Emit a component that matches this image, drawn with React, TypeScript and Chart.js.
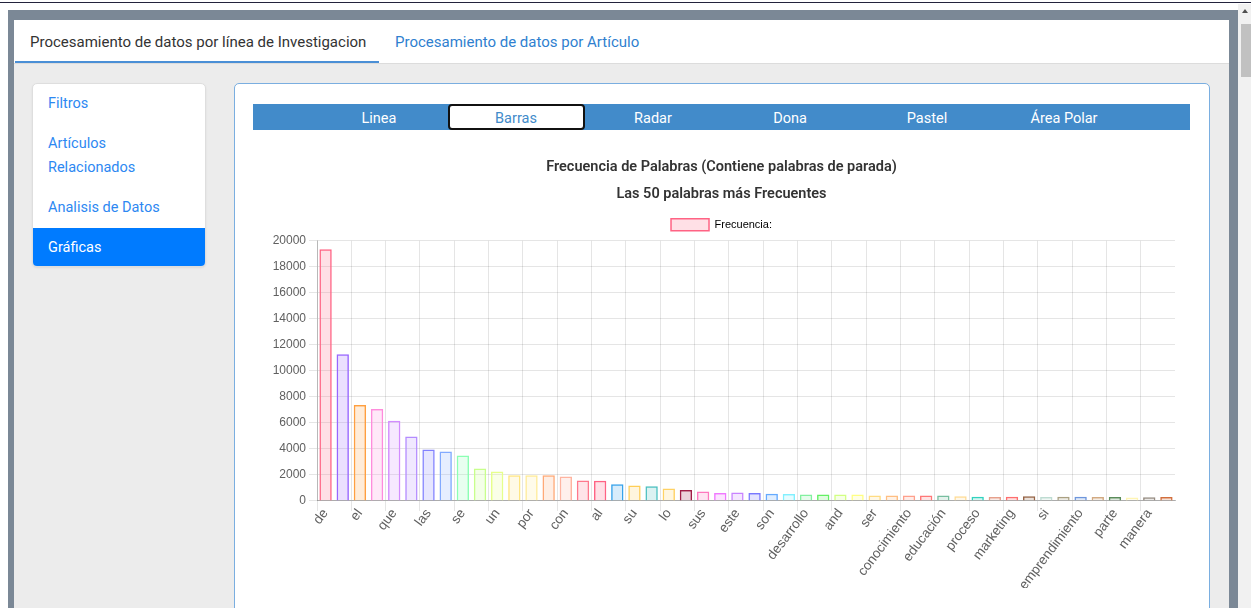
import React, { useEffect, useRef } from "react";
import { Chart, registerables } from "chart.js";

Chart.register(...registerables);

const words: string[] = [
  "de", "la", "el", "en", "que", "y", "las", "los", "se", "del",
  "un", "para", "por", "una", "con", "es", "al", "como", "su", "the",
  "lo", "más", "sus", "entre", "este", "investigación", "son", "of", "desarrollo", "estudio",
  "and", "esta", "ser", "sobre", "conocimiento", "empresas", "educación", "gestión", "proceso", "innovación",
  "marketing", "también", "si", "social", "emprendimiento", "estos", "parte", "cual", "manera", "forma",
];

const frequencies: number[] = [
  19350, 11280, 7370, 7060, 6170, 4960, 3960, 3800, 3490, 2490,
  2260, 1970, 1970, 1970, 1870, 1570, 1560, 1280, 1180, 1130,
  950, 850, 720, 620, 640, 620, 560, 540, 490, 490,
  490, 490, 410, 410, 410, 410, 410, 360, 330, 310,
  330, 360, 310, 330, 330, 310, 310, 260, 280, 310,
];

const yTicks: number[] = [0, 2000, 4000, 6000, 8000, 10000, 12000, 14000, 16000, 18000, 20000];

const titleLines: string[] = [
  "Frecuencia de Palabras (Contiene palabras de parada)",
  "Las 50 palabras más Frecuentes",
];
const seriesLabel = "Frecuencia:";

const barColors: number[][] = [
  [255, 99, 132], [153, 102, 255], [255, 159, 64], [255, 140, 220], [210, 140, 255],
  [180, 140, 255], [130, 130, 255], [130, 170, 255], [140, 255, 180], [200, 255, 140],
  [230, 255, 140], [255, 230, 130], [255, 235, 150], [255, 170, 120], [255, 180, 160],
  [255, 120, 140], [255, 99, 132], [54, 162, 235], [255, 206, 86], [75, 192, 192],
  [255, 210, 100], [160, 30, 70], [255, 120, 190], [240, 120, 255], [200, 130, 255],
  [120, 120, 255], [100, 170, 255], [130, 240, 255], [130, 240, 160], [100, 240, 100],
  [210, 255, 130], [255, 255, 130], [255, 220, 130], [255, 190, 130], [255, 160, 140],
  [255, 120, 120], [120, 190, 160], [255, 220, 150], [50, 210, 190], [230, 160, 140],
  [255, 110, 110], [150, 100, 70], [190, 220, 210], [170, 160, 130], [110, 150, 220],
  [210, 170, 130], [90, 140, 90], [255, 245, 180], [150, 140, 130], [210, 110, 60],
];

const borderCols = barColors.map((c) => `rgb(${c[0]},${c[1]},${c[2]})`);
const fillCols = barColors.map((c) => `rgba(${c[0]},${c[1]},${c[2]},0.2)`);

const navItems = ["Linea", "Barras", "Radar", "Dona", "Pastel", "Área Polar"];

const axisFamily = "'Liberation Sans', Arial, Helvetica, sans-serif";
const tickColor = "#606060";

function BarChart() {
  const ref = useRef<HTMLCanvasElement | null>(null);
  useEffect(() => {
    if (!ref.current) return;
    const chart = new Chart(ref.current, {
      type: "bar",
      data: {
        labels: words,
        datasets: [
          {
            label: seriesLabel,
            data: frequencies,
            backgroundColor: fillCols,
            borderColor: borderCols,
            borderWidth: 1.5,
          },
        ],
      },
      options: {
        animation: false,
        responsive: true,
        maintainAspectRatio: false,
        layout: { padding: { left: 15, right: 15, top: 0, bottom: 0 } },
        font: { family: axisFamily, size: 12 },
        plugins: {
          title: {
            display: true,
            text: titleLines,
            color: "#333",
            font: { family: "Roboto, sans-serif", size: 14.5, weight: "600", lineHeight: 26.5 / 14.5 },
            padding: { top: 14.5, bottom: 1.3 },
          },
          legend: {
            display: true,
            labels: {
              boxWidth: 38,
              boxHeight: 12,
              color: tickColor,
              font: { family: axisFamily, size: 11 },
              generateLabels: () => [
                {
                  text: seriesLabel,
                  fillStyle: fillCols[0],
                  strokeStyle: borderCols[0],
                  lineWidth: 1.5,
                  hidden: false,
                  datasetIndex: 0,
                } as any,
              ],
            },
          },
          tooltip: { enabled: false },
        },
        scales: {
          x: {
            offset: true,
            grid: {
              offset: true,
              tickLength: 10,
              color: (ctx: any) =>
                ctx.type === "tick" && ctx.index % 2 === 0 ? "rgba(0,0,0,0.1)" : "rgba(0,0,0,0)",
            },
            border: { color: "rgba(0,0,0,0.25)" },
            ticks: {
              autoSkip: false,
              maxRotation: 53,
              minRotation: 53,
              padding: -5,
              color: tickColor,
              font: { family: axisFamily, size: 13.5 },
              callback: (_v: any, i: number) => (i % 2 === 0 ? words[i] : ""),
            },
          },
          y: {
            min: yTicks[0],
            max: yTicks[yTicks.length - 1],
            afterBuildTicks: (scale: any) => {
              scale.ticks = yTicks.map((v) => ({ value: v }));
            },
            afterFit: (scale: any) => {
              scale.width = 49;
            },
            grid: { color: "rgba(0,0,0,0.1)", tickLength: 8 },
            border: { color: "rgba(0,0,0,0.2)" },
            ticks: {
              color: tickColor,
              font: { family: axisFamily, size: 12 },
              callback: (v: any) => String(v),
            },
          },
        },
      },
    });
    return () => chart.destroy();
  }, []);
  return (
    <div style={{ position: "absolute", left: 253, top: 140, width: 937, height: 448 }}>
      <canvas ref={ref} />
    </div>
  );
}

export default function App() {
  const font = "Roboto, 'Noto Sans', sans-serif";
  return (
    <div style={{ position: "fixed", inset: 0, overflow: "hidden", background: "#fff", fontFamily: font }}>
      {/* top dark line */}
      <div style={{ position: "absolute", left: 0, top: 2, width: 1251, height: 1, background: "#23233d" }} />
      {/* scrollbar */}
      <div style={{ position: "absolute", left: 1238, top: 4, width: 13, height: 604, background: "#f1f1f1" }} />
      <div
        style={{
          position: "absolute",
          left: 1242,
          top: 9,
          width: 0,
          height: 0,
          borderLeft: "3.5px solid transparent",
          borderRight: "3.5px solid transparent",
          borderBottom: "4px solid #505050",
        }}
      />
      <div style={{ position: "absolute", left: 1241, top: 24, width: 10, height: 53, background: "#c1c1c1" }} />
      {/* frame */}
      <div style={{ position: "absolute", left: 8, top: 10, width: 1230, height: 600, background: "#7b8896" }} />
      {/* panel */}
      <div style={{ position: "absolute", left: 14, top: 20, width: 1215, height: 590, background: "#ececec" }} />
      {/* tab header */}
      <div style={{ position: "absolute", left: 14, top: 20, width: 1215, height: 43, background: "#fff" }} />
      <div style={{ position: "absolute", left: 14, top: 63, width: 1215, height: 1, background: "#dcdcdc" }} />
      <div style={{ position: "absolute", left: 15, top: 61, width: 364, height: 2, background: "#4a8fd6" }} />
      <div
        style={{
          position: "absolute",
          left: 30,
          top: 31,
          fontSize: 15,
          lineHeight: "22px",
          color: "#333",
          whiteSpace: "nowrap",
        }}
      >
        Procesamiento de datos por línea de Investigacion
      </div>
      <div
        style={{
          position: "absolute",
          left: 395,
          top: 31,
          fontSize: 15,
          lineHeight: "22px",
          color: "#2f7fcf",
          whiteSpace: "nowrap",
        }}
      >
        Procesamiento de datos por Artículo
      </div>
      {/* sidebar */}
      <div
        style={{
          position: "absolute",
          left: 32,
          top: 83,
          width: 174,
          height: 184,
          background: "#fff",
          border: "1px solid #dedede",
          borderRadius: 5,
          boxSizing: "border-box",
          boxShadow: "0 1px 2px rgba(0,0,0,0.08)",
          overflow: "hidden",
          fontSize: 14.5,
          lineHeight: "24px",
          color: "#2d88f2",
        }}
      >
        <div style={{ padding: "8px 15px", height: 40, boxSizing: "border-box" }}>Filtros</div>
        <div style={{ padding: "8px 15px", height: 64, boxSizing: "border-box" }}>
          Artículos
          <br />
          Relacionados
        </div>
        <div style={{ padding: "8px 15px", height: 40, boxSizing: "border-box" }}>Analisis de Datos</div>
        <div
          style={{
            padding: "8px 15px",
            height: 40,
            boxSizing: "border-box",
            background: "#007bff",
            color: "#fff",
            borderRadius: "0 0 4px 4px",
          }}
        >
          Gráficas
        </div>
      </div>
      {/* main card */}
      <div
        style={{
          position: "absolute",
          left: 234,
          top: 83,
          width: 976,
          height: 560,
          background: "#fff",
          border: "1px solid #7aaee0",
          borderRadius: 5,
          boxSizing: "border-box",
        }}
      />
      {/* nav bar */}
      <div
        style={{
          position: "absolute",
          left: 253,
          top: 104,
          width: 937,
          height: 26,
          background: "#428bca",
        }}
      />
      {navItems.map((t, i) => (
        <div
          key={t}
          style={{
            position: "absolute",
            left: 310.5 + 137 * i,
            top: 104,
            width: 137,
            height: 26,
            boxSizing: "border-box",
            textAlign: "center",
            fontSize: 14.5,
            lineHeight: i === 1 ? "25px" : "29px",
            color: i === 1 ? "#428bca" : "#fff",
            background: i === 1 ? "#fff" : "transparent",
            border: i === 1 ? "2px solid #111" : "none",
            borderRadius: i === 1 ? 4 : 0,
            overflow: "hidden",
          }}
        >
          {t}
        </div>
      ))}
      <BarChart />
    </div>
  );
}
